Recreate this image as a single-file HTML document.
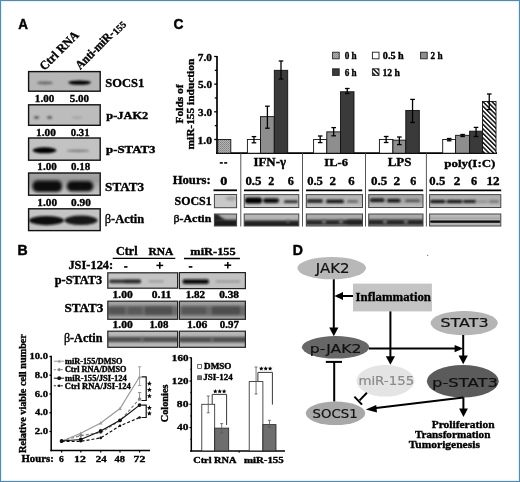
<!DOCTYPE html>
<html><head><meta charset="utf-8"><title>Figure</title>
<style>html,body{margin:0;padding:0;background:#fff;overflow:hidden;}svg{display:block;}</style></head>
<body><svg width="520" height="482" viewBox="0 0 520 482">
<defs>
<pattern id="dots" width="2" height="2" patternUnits="userSpaceOnUse"><rect width="2" height="2" fill="#b4b4b4"/><rect width="1" height="1" fill="#808080"/><rect x="1" y="1" width="1" height="1" fill="#909090"/></pattern>
<pattern id="hatch" width="3.2" height="3.2" patternUnits="userSpaceOnUse" patternTransform="rotate(-45)"><rect width="3.2" height="3.2" fill="#fff"/><rect width="1.5" height="3.2" fill="#111"/></pattern>
<filter id="b1" x="-50%" y="-100%" width="200%" height="300%"><feGaussianBlur stdDeviation="0.1"/></filter><filter id="b2" x="-50%" y="-100%" width="200%" height="300%"><feGaussianBlur stdDeviation="0.2"/></filter><filter id="b3" x="-50%" y="-100%" width="200%" height="300%"><feGaussianBlur stdDeviation="0.3"/></filter><filter id="b4" x="-50%" y="-100%" width="200%" height="300%"><feGaussianBlur stdDeviation="0.4"/></filter><filter id="b5" x="-50%" y="-100%" width="200%" height="300%"><feGaussianBlur stdDeviation="0.5"/></filter><filter id="b6" x="-50%" y="-100%" width="200%" height="300%"><feGaussianBlur stdDeviation="0.6"/></filter><filter id="b7" x="-50%" y="-100%" width="200%" height="300%"><feGaussianBlur stdDeviation="0.7"/></filter><filter id="b8" x="-50%" y="-100%" width="200%" height="300%"><feGaussianBlur stdDeviation="0.8"/></filter><filter id="b9" x="-50%" y="-100%" width="200%" height="300%"><feGaussianBlur stdDeviation="0.9"/></filter><filter id="b10" x="-50%" y="-100%" width="200%" height="300%"><feGaussianBlur stdDeviation="1.0"/></filter><filter id="b11" x="-50%" y="-100%" width="200%" height="300%"><feGaussianBlur stdDeviation="1.1"/></filter><filter id="b12" x="-50%" y="-100%" width="200%" height="300%"><feGaussianBlur stdDeviation="1.2"/></filter><filter id="b13" x="-50%" y="-100%" width="200%" height="300%"><feGaussianBlur stdDeviation="1.3"/></filter><filter id="b14" x="-50%" y="-100%" width="200%" height="300%"><feGaussianBlur stdDeviation="1.4"/></filter><filter id="b15" x="-50%" y="-100%" width="200%" height="300%"><feGaussianBlur stdDeviation="1.5"/></filter><filter id="b16" x="-50%" y="-100%" width="200%" height="300%"><feGaussianBlur stdDeviation="1.6"/></filter><filter id="b17" x="-50%" y="-100%" width="200%" height="300%"><feGaussianBlur stdDeviation="1.7"/></filter><filter id="b18" x="-50%" y="-100%" width="200%" height="300%"><feGaussianBlur stdDeviation="1.8"/></filter><filter id="b19" x="-50%" y="-100%" width="200%" height="300%"><feGaussianBlur stdDeviation="1.9"/></filter><filter id="b20" x="-50%" y="-100%" width="200%" height="300%"><feGaussianBlur stdDeviation="2.0"/></filter><filter id="b21" x="-50%" y="-100%" width="200%" height="300%"><feGaussianBlur stdDeviation="2.1"/></filter><filter id="b22" x="-50%" y="-100%" width="200%" height="300%"><feGaussianBlur stdDeviation="2.2"/></filter><filter id="b23" x="-50%" y="-100%" width="200%" height="300%"><feGaussianBlur stdDeviation="2.3"/></filter><filter id="b24" x="-50%" y="-100%" width="200%" height="300%"><feGaussianBlur stdDeviation="2.4"/></filter><filter id="b25" x="-50%" y="-100%" width="200%" height="300%"><feGaussianBlur stdDeviation="2.5"/></filter><filter id="b26" x="-50%" y="-100%" width="200%" height="300%"><feGaussianBlur stdDeviation="2.6"/></filter><filter id="b27" x="-50%" y="-100%" width="200%" height="300%"><feGaussianBlur stdDeviation="2.7"/></filter><filter id="b28" x="-50%" y="-100%" width="200%" height="300%"><feGaussianBlur stdDeviation="2.8"/></filter><filter id="b29" x="-50%" y="-100%" width="200%" height="300%"><feGaussianBlur stdDeviation="2.9"/></filter></defs>
<rect width="520" height="482" fill="#fff"/>
<text x="18.36" y="28.60" font-size="15.18" font-family="'Liberation Sans', sans-serif" font-weight="bold" fill="#000" stroke="#000" stroke-width="0.45" textLength="9.72" lengthAdjust="spacingAndGlyphs">A</text>
<text transform="translate(44.5,71.0) rotate(-45)" font-size="12.5" font-family="'Liberation Serif', serif" font-weight="bold" stroke="#000" stroke-width="0.35" textLength="49.5" lengthAdjust="spacingAndGlyphs">Ctrl RNA</text>
<g transform="translate(80.2,70.0) rotate(-45)" font-family="'Liberation Serif', serif" font-weight="bold" stroke="#000" stroke-width="0.35"><text x="0" y="0" font-size="12.3" textLength="49.6" lengthAdjust="spacingAndGlyphs">Anti-miR-</text><text x="50.3" y="1.2" font-size="9.8" textLength="14.4" lengthAdjust="spacingAndGlyphs">155</text></g>
<clipPath id="c1"><rect x="28.6" y="71.6" width="71.6" height="19.60000000000001"/></clipPath>
<g clip-path="url(#c1)">
<rect x="28.6" y="71.6" width="71.6" height="19.60000000000001" fill="#b6b6b6"/>
<ellipse cx="45" cy="82.9" rx="8" ry="1.5" fill="#555" opacity="0.8" filter="url(#b12)"/>
<ellipse cx="79.6" cy="82.6" rx="11.5" ry="2.2" fill="#000" opacity="1" filter="url(#b10)"/>
</g>
<rect x="28.6" y="71.6" width="71.6" height="19.60000000000001" fill="none" stroke="#111" stroke-width="1.4"/>
<clipPath id="c2"><rect x="28.6" y="104.8" width="71.6" height="20.5"/></clipPath>
<g clip-path="url(#c2)">
<rect x="28.6" y="104.8" width="71.6" height="20.5" fill="#bcbcbc"/>
<ellipse cx="36.5" cy="117.5" rx="2.6" ry="1.3" fill="#333" opacity="0.8" filter="url(#b8)"/>
<ellipse cx="49.6" cy="117.5" rx="2.6" ry="1.3" fill="#333" opacity="0.8" filter="url(#b8)"/>
<ellipse cx="77" cy="117.6" rx="5" ry="1" fill="#888" opacity="0.6" filter="url(#b10)"/>
</g>
<rect x="28.6" y="104.8" width="71.6" height="20.5" fill="none" stroke="#111" stroke-width="1.4"/>
<clipPath id="c3"><rect x="28.6" y="138" width="71.6" height="22.19999999999999"/></clipPath>
<g clip-path="url(#c3)">
<rect x="28.6" y="138" width="71.6" height="22.19999999999999" fill="#c2c2c2"/>
<ellipse cx="44.5" cy="150.3" rx="12" ry="3" fill="#000" opacity="1" filter="url(#b8)"/>
<ellipse cx="78" cy="150.8" rx="11.5" ry="1.4" fill="#777" opacity="0.8" filter="url(#b12)"/>
</g>
<rect x="28.6" y="138" width="71.6" height="22.19999999999999" fill="none" stroke="#111" stroke-width="1.4"/>
<clipPath id="c5"><rect x="28.6" y="173" width="71.6" height="22.19999999999999"/></clipPath>
<g clip-path="url(#c5)">
<rect x="28.6" y="173" width="71.6" height="22.19999999999999" fill="#bdbdbd"/>
<linearGradient id="g4" x1="0" y1="0" x2="0" y2="1"><stop offset="0" stop-color="#a4a4a4"/><stop offset="0.35" stop-color="#9a9a9a"/><stop offset="1" stop-color="#c8c8c8"/></linearGradient><rect x="28.6" y="173" width="71.6" height="22.19999999999999" fill="url(#g4)"/><rect x="32.5" y="180.5" width="29.5" height="11.5" rx="5" fill="#0a0a0a" filter="url(#b15)"/><rect x="66.8" y="181" width="26.5" height="10.5" rx="5" fill="#101010" filter="url(#b15)"/>
</g>
<rect x="28.6" y="173" width="71.6" height="22.19999999999999" fill="none" stroke="#111" stroke-width="1.4"/>
<clipPath id="c6"><rect x="28.6" y="208.8" width="71.6" height="21.799999999999983"/></clipPath>
<g clip-path="url(#c6)">
<rect x="28.6" y="208.8" width="71.6" height="21.799999999999983" fill="#c4c4c4"/>
<ellipse cx="46.5" cy="220.6" rx="17.5" ry="4.6" fill="#111" opacity="1" filter="url(#b12)"/>
<ellipse cx="81" cy="220.3" rx="16.5" ry="4.8" fill="#151515" opacity="1" filter="url(#b12)"/>
</g>
<rect x="28.6" y="208.8" width="71.6" height="21.799999999999983" fill="none" stroke="#111" stroke-width="1.4"/>
<text x="34.89" y="102.00" font-size="10.11" font-family="'Liberation Serif', serif" font-weight="bold" fill="#000" stroke="#000" stroke-width="0.35" textLength="19.43" lengthAdjust="spacingAndGlyphs">1.00</text>
<text x="69.74" y="102.00" font-size="10.11" font-family="'Liberation Serif', serif" font-weight="bold" fill="#000" stroke="#000" stroke-width="0.35" textLength="19.22" lengthAdjust="spacingAndGlyphs">5.00</text>
<text x="35.97" y="135.50" font-size="10.56" font-family="'Liberation Serif', serif" font-weight="bold" fill="#000" stroke="#000" stroke-width="0.35" textLength="19.85" lengthAdjust="spacingAndGlyphs">1.00</text>
<text x="70.80" y="135.50" font-size="10.56" font-family="'Liberation Serif', serif" font-weight="bold" fill="#000" stroke="#000" stroke-width="0.35" textLength="18.76" lengthAdjust="spacingAndGlyphs">0.31</text>
<text x="37.39" y="170.00" font-size="10.64" font-family="'Liberation Serif', serif" font-weight="bold" fill="#000" stroke="#000" stroke-width="0.35" textLength="19.32" lengthAdjust="spacingAndGlyphs">1.00</text>
<text x="71.04" y="170.00" font-size="10.64" font-family="'Liberation Serif', serif" font-weight="bold" fill="#000" stroke="#000" stroke-width="0.35" textLength="19.11" lengthAdjust="spacingAndGlyphs">0.18</text>
<text x="37.37" y="206.00" font-size="10.11" font-family="'Liberation Serif', serif" font-weight="bold" fill="#000" stroke="#000" stroke-width="0.35" textLength="19.75" lengthAdjust="spacingAndGlyphs">1.00</text>
<text x="71.03" y="206.00" font-size="10.11" font-family="'Liberation Serif', serif" font-weight="bold" fill="#000" stroke="#000" stroke-width="0.35" textLength="19.79" lengthAdjust="spacingAndGlyphs">0.90</text>
<text x="105.35" y="87.00" font-size="13.22" font-family="'Liberation Serif', serif" font-weight="bold" fill="#000" stroke="#000" stroke-width="0.35" textLength="38.90" lengthAdjust="spacingAndGlyphs">SOCS1</text>
<text x="106.35" y="119.40" font-size="10.19" font-family="'Liberation Serif', serif" font-weight="bold" fill="#000" stroke="#000" stroke-width="0.35" textLength="41.87" lengthAdjust="spacingAndGlyphs">p-JAK2</text>
<text x="106.05" y="152.70" font-size="10.19" font-family="'Liberation Serif', serif" font-weight="bold" fill="#000" stroke="#000" stroke-width="0.35" textLength="49.36" lengthAdjust="spacingAndGlyphs">p-STAT3</text>
<text x="105.12" y="190.60" font-size="11.70" font-family="'Liberation Serif', serif" font-weight="bold" fill="#000" stroke="#000" stroke-width="0.35" textLength="38.90" lengthAdjust="spacingAndGlyphs">STAT3</text>
<text x="104.70" y="222.90" font-size="13.04" font-family="'Liberation Serif', serif" font-weight="bold" fill="#000" stroke="#000" stroke-width="0.35" textLength="39.47" lengthAdjust="spacingAndGlyphs"><tspan font-weight="normal">β</tspan>-Actin</text>
<text x="173.47" y="28.60" font-size="15.11" font-family="'Liberation Sans', sans-serif" font-weight="bold" fill="#000" stroke="#000" stroke-width="0.45" textLength="9.98" lengthAdjust="spacingAndGlyphs">C</text>
<line x1="217.0" y1="55.89000000000001" x2="217.0" y2="153.9" stroke="#000" stroke-width="1.7" />
<line x1="214.2" y1="139.47" x2="217.0" y2="139.47" stroke="#000" stroke-width="1.3" />
<line x1="214.8" y1="125.64000000000001" x2="217.0" y2="125.64000000000001" stroke="#000" stroke-width="1.3" />
<line x1="214.2" y1="111.81" x2="217.0" y2="111.81" stroke="#000" stroke-width="1.3" />
<line x1="214.8" y1="97.98000000000002" x2="217.0" y2="97.98000000000002" stroke="#000" stroke-width="1.3" />
<line x1="214.2" y1="84.15" x2="217.0" y2="84.15" stroke="#000" stroke-width="1.3" />
<line x1="214.8" y1="70.32000000000001" x2="217.0" y2="70.32000000000001" stroke="#000" stroke-width="1.3" />
<line x1="214.2" y1="56.49000000000001" x2="217.0" y2="56.49000000000001" stroke="#000" stroke-width="1.3" />
<text x="197.55" y="143.57" font-size="10.56" font-family="'Liberation Serif', serif" font-weight="bold" fill="#000" stroke="#000" stroke-width="0.35" textLength="14.48" lengthAdjust="spacingAndGlyphs">1.0</text>
<text x="198.08" y="115.91" font-size="10.56" font-family="'Liberation Serif', serif" font-weight="bold" fill="#000" stroke="#000" stroke-width="0.35" textLength="13.93" lengthAdjust="spacingAndGlyphs">3.0</text>
<text x="198.03" y="88.25" font-size="10.56" font-family="'Liberation Serif', serif" font-weight="bold" fill="#000" stroke="#000" stroke-width="0.35" textLength="13.99" lengthAdjust="spacingAndGlyphs">5.0</text>
<text x="197.85" y="60.59" font-size="10.56" font-family="'Liberation Serif', serif" font-weight="bold" fill="#000" stroke="#000" stroke-width="0.35" textLength="14.17" lengthAdjust="spacingAndGlyphs">7.0</text>
<text transform="translate(183.2,123.4) rotate(-90)" font-size="10.8" font-family="'Liberation Serif', serif" font-weight="bold" stroke="#000" stroke-width="0.35" textLength="39" lengthAdjust="spacingAndGlyphs">Folds of</text>
<text transform="translate(193.8,149.5) rotate(-90)" font-size="10.8" font-family="'Liberation Serif', serif" font-weight="bold" stroke="#000" stroke-width="0.35" textLength="90.8" lengthAdjust="spacingAndGlyphs">miR-155 induction</text>
<line x1="216.2" y1="153.2" x2="497" y2="153.2" stroke="#000" stroke-width="1.7" />
<rect x="217.7" y="139.47" width="13.10" height="13.73" fill="url(#dots)" stroke="#111" stroke-width="0.9"/>
<rect x="247.4" y="139.47" width="13.10" height="13.73" fill="#fff" stroke="#111" stroke-width="0.9"/>
<line x1="253.95" y1="136.6" x2="253.95" y2="142.8" stroke="#000" stroke-width="1.3" />
<line x1="251.64999999999998" y1="136.6" x2="256.25" y2="136.6" stroke="#000" stroke-width="1.3" />
<line x1="251.64999999999998" y1="142.8" x2="256.25" y2="142.8" stroke="#000" stroke-width="1.3" />
<rect x="260.5" y="116.65" width="13.80" height="36.55" fill="#8e8e8e" stroke="#111" stroke-width="0.9"/>
<line x1="267.4" y1="106.2" x2="267.4" y2="128.2" stroke="#000" stroke-width="1.3" />
<line x1="265.09999999999997" y1="106.2" x2="269.7" y2="106.2" stroke="#000" stroke-width="1.3" />
<line x1="265.09999999999997" y1="128.2" x2="269.7" y2="128.2" stroke="#000" stroke-width="1.3" />
<rect x="274.3" y="70.32" width="13.40" height="82.88" fill="#3a3a3a" stroke="#111" stroke-width="0.9"/>
<line x1="281.0" y1="61" x2="281.0" y2="79" stroke="#000" stroke-width="1.3" />
<line x1="278.7" y1="61" x2="283.3" y2="61" stroke="#000" stroke-width="1.3" />
<line x1="278.7" y1="79" x2="283.3" y2="79" stroke="#000" stroke-width="1.3" />
<rect x="313.6" y="139.47" width="13.20" height="13.73" fill="#fff" stroke="#111" stroke-width="0.9"/>
<line x1="320.20000000000005" y1="136" x2="320.20000000000005" y2="142.6" stroke="#000" stroke-width="1.3" />
<line x1="317.90000000000003" y1="136" x2="322.50000000000006" y2="136" stroke="#000" stroke-width="1.3" />
<line x1="317.90000000000003" y1="142.6" x2="322.50000000000006" y2="142.6" stroke="#000" stroke-width="1.3" />
<rect x="326.8" y="131.86" width="13.70" height="21.34" fill="#8e8e8e" stroke="#111" stroke-width="0.9"/>
<line x1="333.65" y1="127.6" x2="333.65" y2="135.8" stroke="#000" stroke-width="1.3" />
<line x1="331.34999999999997" y1="127.6" x2="335.95" y2="127.6" stroke="#000" stroke-width="1.3" />
<line x1="331.34999999999997" y1="135.8" x2="335.95" y2="135.8" stroke="#000" stroke-width="1.3" />
<rect x="340.5" y="91.76" width="13.50" height="61.44" fill="#3a3a3a" stroke="#111" stroke-width="0.9"/>
<line x1="347.25" y1="88.5" x2="347.25" y2="93.5" stroke="#000" stroke-width="1.3" />
<line x1="344.95" y1="88.5" x2="349.55" y2="88.5" stroke="#000" stroke-width="1.3" />
<line x1="344.95" y1="93.5" x2="349.55" y2="93.5" stroke="#000" stroke-width="1.3" />
<rect x="379.4" y="139.47" width="13.50" height="13.73" fill="#fff" stroke="#111" stroke-width="0.9"/>
<line x1="386.15" y1="136.5" x2="386.15" y2="142.5" stroke="#000" stroke-width="1.3" />
<line x1="383.84999999999997" y1="136.5" x2="388.45" y2="136.5" stroke="#000" stroke-width="1.3" />
<line x1="383.84999999999997" y1="142.5" x2="388.45" y2="142.5" stroke="#000" stroke-width="1.3" />
<rect x="392.9" y="140.16" width="12.90" height="13.04" fill="#8e8e8e" stroke="#111" stroke-width="0.9"/>
<line x1="399.35" y1="137" x2="399.35" y2="144.6" stroke="#000" stroke-width="1.3" />
<line x1="397.05" y1="137" x2="401.65000000000003" y2="137" stroke="#000" stroke-width="1.3" />
<line x1="397.05" y1="144.6" x2="401.65000000000003" y2="144.6" stroke="#000" stroke-width="1.3" />
<rect x="405.8" y="110.43" width="13.50" height="42.77" fill="#3a3a3a" stroke="#111" stroke-width="0.9"/>
<line x1="412.55" y1="99.4" x2="412.55" y2="122.5" stroke="#000" stroke-width="1.3" />
<line x1="410.25" y1="99.4" x2="414.85" y2="99.4" stroke="#000" stroke-width="1.3" />
<line x1="410.25" y1="122.5" x2="414.85" y2="122.5" stroke="#000" stroke-width="1.3" />
<rect x="442.7" y="139.47" width="12.90" height="13.73" fill="#fff" stroke="#111" stroke-width="0.9"/>
<line x1="449.15" y1="138.5" x2="449.15" y2="140.8" stroke="#000" stroke-width="1.3" />
<line x1="446.84999999999997" y1="138.5" x2="451.45" y2="138.5" stroke="#000" stroke-width="1.3" />
<line x1="446.84999999999997" y1="140.8" x2="451.45" y2="140.8" stroke="#000" stroke-width="1.3" />
<rect x="455.6" y="135.32" width="14.00" height="17.88" fill="#8e8e8e" stroke="#111" stroke-width="0.9"/>
<line x1="462.6" y1="134.5" x2="462.6" y2="136.5" stroke="#000" stroke-width="1.3" />
<line x1="460.3" y1="134.5" x2="464.90000000000003" y2="134.5" stroke="#000" stroke-width="1.3" />
<line x1="460.3" y1="136.5" x2="464.90000000000003" y2="136.5" stroke="#000" stroke-width="1.3" />
<rect x="469.6" y="131.17" width="12.90" height="22.03" fill="#3a3a3a" stroke="#111" stroke-width="0.9"/>
<line x1="476.05" y1="127.4" x2="476.05" y2="136.5" stroke="#000" stroke-width="1.3" />
<line x1="473.75" y1="127.4" x2="478.35" y2="127.4" stroke="#000" stroke-width="1.3" />
<line x1="473.75" y1="136.5" x2="478.35" y2="136.5" stroke="#000" stroke-width="1.3" />
<rect x="482.5" y="101.44" width="13.50" height="51.76" fill="url(#hatch)" stroke="#111" stroke-width="0.9"/>
<line x1="489.25" y1="94" x2="489.25" y2="109.6" stroke="#000" stroke-width="1.3" />
<line x1="486.95" y1="94" x2="491.55" y2="94" stroke="#000" stroke-width="1.3" />
<line x1="486.95" y1="109.6" x2="491.55" y2="109.6" stroke="#000" stroke-width="1.3" />
<rect x="332.6" y="52.2" width="6.6" height="6.6" fill="url(#dots)" stroke="#222" stroke-width="0.9"/>
<text x="344.65" y="58.80" font-size="9.60" font-family="'Liberation Serif', serif" font-weight="bold" fill="#000" stroke="#000" stroke-width="0.35" textLength="11.97" lengthAdjust="spacingAndGlyphs">0 h</text>
<rect x="372.4" y="52.2" width="6.6" height="6.6" fill="#fff" stroke="#222" stroke-width="0.9"/>
<text x="382.82" y="58.80" font-size="9.60" font-family="'Liberation Serif', serif" font-weight="bold" fill="#000" stroke="#000" stroke-width="0.35" textLength="20.92" lengthAdjust="spacingAndGlyphs">0.5 h</text>
<rect x="420.6" y="52.2" width="6.6" height="6.6" fill="#8e8e8e" stroke="#222" stroke-width="0.9"/>
<text x="430.61" y="58.80" font-size="9.60" font-family="'Liberation Serif', serif" font-weight="bold" fill="#000" stroke="#000" stroke-width="0.35" textLength="12.02" lengthAdjust="spacingAndGlyphs">2 h</text>
<rect x="332.6" y="68.8" width="6.6" height="6.6" fill="#3a3a3a" stroke="#222" stroke-width="0.9"/>
<text x="344.70" y="75.60" font-size="10.04" font-family="'Liberation Serif', serif" font-weight="bold" fill="#000" stroke="#000" stroke-width="0.35" textLength="11.93" lengthAdjust="spacingAndGlyphs">6 h</text>
<rect x="372.4" y="68.8" width="6.6" height="6.6" fill="url(#hatch)" stroke="#222" stroke-width="0.9"/>
<text x="382.40" y="75.60" font-size="10.04" font-family="'Liberation Serif', serif" font-weight="bold" fill="#000" stroke="#000" stroke-width="0.35" textLength="17.53" lengthAdjust="spacingAndGlyphs">12 h</text>
<rect x="219.8" y="162.1" width="3" height="1.6" fill="#000"/><rect x="224.2" y="162.1" width="3" height="1.6" fill="#000"/>
<text x="253.49" y="165.70" font-size="11.49" font-family="'Liberation Serif', serif" font-weight="bold" fill="#000" stroke="#000" stroke-width="0.35" textLength="32.50" lengthAdjust="spacingAndGlyphs">IFN-γ</text>
<text x="324.30" y="165.70" font-size="11.40" font-family="'Liberation Serif', serif" font-weight="bold" fill="#000" stroke="#000" stroke-width="0.35" textLength="23.64" lengthAdjust="spacingAndGlyphs">IL-6</text>
<text x="387.78" y="165.90" font-size="11.70" font-family="'Liberation Serif', serif" font-weight="bold" fill="#000" stroke="#000" stroke-width="0.35" textLength="23.67" lengthAdjust="spacingAndGlyphs">LPS</text>
<text x="444.25" y="166.60" font-size="11.40" font-family="'Liberation Serif', serif" font-weight="bold" fill="#000" stroke="#000" stroke-width="0.35" textLength="51.14" lengthAdjust="spacingAndGlyphs">poly(I:C)</text>
<text x="172.69" y="184.30" font-size="12.71" font-family="'Liberation Serif', serif" font-weight="bold" fill="#000" stroke="#000" stroke-width="0.35" textLength="37.95" lengthAdjust="spacingAndGlyphs">Hours:</text>
<text x="220.17" y="184.70" font-size="12.52" font-family="'Liberation Serif', serif" font-weight="bold" fill="#000" stroke="#000" stroke-width="0.35" textLength="7.15" lengthAdjust="spacingAndGlyphs">0</text>
<text x="245.42" y="184.60" font-size="12.67" font-family="'Liberation Serif', serif" font-weight="bold" fill="#000" stroke="#000" stroke-width="0.35" textLength="16.15" lengthAdjust="spacingAndGlyphs">0.5</text>
<text x="268.19" y="184.60" font-size="12.77" font-family="'Liberation Serif', serif" font-weight="bold" fill="#000" stroke="#000" stroke-width="0.35" textLength="6.01" lengthAdjust="spacingAndGlyphs">2</text>
<text x="287.81" y="184.60" font-size="12.77" font-family="'Liberation Serif', serif" font-weight="bold" fill="#000" stroke="#000" stroke-width="0.35" textLength="6.12" lengthAdjust="spacingAndGlyphs">6</text>
<text x="307.13" y="184.60" font-size="12.67" font-family="'Liberation Serif', serif" font-weight="bold" fill="#000" stroke="#000" stroke-width="0.35" textLength="15.73" lengthAdjust="spacingAndGlyphs">0.5</text>
<text x="329.56" y="184.60" font-size="12.77" font-family="'Liberation Serif', serif" font-weight="bold" fill="#000" stroke="#000" stroke-width="0.35" textLength="6.49" lengthAdjust="spacingAndGlyphs">2</text>
<text x="348.29" y="184.60" font-size="12.77" font-family="'Liberation Serif', serif" font-weight="bold" fill="#000" stroke="#000" stroke-width="0.35" textLength="6.35" lengthAdjust="spacingAndGlyphs">6</text>
<text x="370.92" y="184.60" font-size="12.67" font-family="'Liberation Serif', serif" font-weight="bold" fill="#000" stroke="#000" stroke-width="0.35" textLength="16.26" lengthAdjust="spacingAndGlyphs">0.5</text>
<text x="393.64" y="184.60" font-size="12.77" font-family="'Liberation Serif', serif" font-weight="bold" fill="#000" stroke="#000" stroke-width="0.35" textLength="6.73" lengthAdjust="spacingAndGlyphs">2</text>
<text x="410.31" y="184.60" font-size="12.77" font-family="'Liberation Serif', serif" font-weight="bold" fill="#000" stroke="#000" stroke-width="0.35" textLength="6.01" lengthAdjust="spacingAndGlyphs">6</text>
<text x="429.33" y="184.60" font-size="12.22" font-family="'Liberation Serif', serif" font-weight="bold" fill="#000" stroke="#000" stroke-width="0.35" textLength="15.94" lengthAdjust="spacingAndGlyphs">0.5</text>
<text x="453.85" y="184.60" font-size="12.31" font-family="'Liberation Serif', serif" font-weight="bold" fill="#000" stroke="#000" stroke-width="0.35" textLength="6.61" lengthAdjust="spacingAndGlyphs">2</text>
<text x="471.01" y="184.60" font-size="12.31" font-family="'Liberation Serif', serif" font-weight="bold" fill="#000" stroke="#000" stroke-width="0.35" textLength="6.12" lengthAdjust="spacingAndGlyphs">6</text>
<text x="486.43" y="184.60" font-size="12.31" font-family="'Liberation Serif', serif" font-weight="bold" fill="#000" stroke="#000" stroke-width="0.35" textLength="13.12" lengthAdjust="spacingAndGlyphs">12</text>
<line x1="213.5" y1="190.3" x2="237" y2="190.3" stroke="#000" stroke-width="1.8" />
<line x1="244" y1="190.3" x2="299.2" y2="190.3" stroke="#000" stroke-width="1.8" />
<line x1="306" y1="190.3" x2="362.2" y2="190.3" stroke="#000" stroke-width="1.8" />
<line x1="368.5" y1="190.3" x2="423.2" y2="190.3" stroke="#000" stroke-width="1.8" />
<line x1="429.3" y1="190.3" x2="501.2" y2="190.3" stroke="#000" stroke-width="1.8" />
<line x1="240.8" y1="153" x2="240.8" y2="226.5" stroke="#444" stroke-width="0.9" />
<line x1="302.5" y1="153" x2="302.5" y2="226.5" stroke="#444" stroke-width="0.9" />
<line x1="365.5" y1="153" x2="365.5" y2="226.5" stroke="#444" stroke-width="0.9" />
<line x1="426.4" y1="153" x2="426.4" y2="226.5" stroke="#444" stroke-width="0.9" />
<text x="174.58" y="205.10" font-size="12.01" font-family="'Liberation Serif', serif" font-weight="bold" fill="#000" stroke="#000" stroke-width="0.35" textLength="37.14" lengthAdjust="spacingAndGlyphs">SOCS1</text>
<text x="173.53" y="222.00" font-size="10.89" font-family="'Liberation Serif', serif" font-weight="bold" fill="#000" stroke="#000" stroke-width="0.35" textLength="37.73" lengthAdjust="spacingAndGlyphs"><tspan font-weight="normal">β</tspan>-Actin</text>
<clipPath id="c7"><rect x="214.4" y="194.5" width="22.19999999999999" height="13.199999999999989"/></clipPath>
<g clip-path="url(#c7)">
<rect x="214.4" y="194.5" width="22.19999999999999" height="13.199999999999989" fill="#c9c9c9"/>
<ellipse cx="231" cy="198.5" rx="5.5" ry="2.2" fill="#999" opacity="0.8" filter="url(#b12)"/>
</g>
<rect x="214.4" y="194.5" width="22.19999999999999" height="13.199999999999989" fill="none" stroke="#444" stroke-width="1.0"/>
<clipPath id="c8"><rect x="214.4" y="214" width="22.19999999999999" height="12"/></clipPath>
<g clip-path="url(#c8)">
<rect x="214.4" y="214" width="22.19999999999999" height="12" fill="#acacac"/>
<rect x="212" y="219.8" width="28" height="7.199999999999989" rx="1.5" fill="#1c1c1c" opacity="1" filter="url(#b9)"/><path d="M212,214 L218,214 Q222,219 226,220 L212,222 Z" fill="#222" filter="url(#b10)"/>
</g>
<rect x="214.4" y="214" width="22.19999999999999" height="12" fill="none" stroke="#444" stroke-width="1.0"/>
<clipPath id="c10"><rect x="244.2" y="194.6" width="54.60000000000002" height="12.900000000000006"/></clipPath>
<g clip-path="url(#c10)">
<rect x="244.2" y="194.6" width="54.60000000000002" height="12.900000000000006" fill="#bcbcbc"/>
<linearGradient id="g9" x1="0" y1="0" x2="0" y2="1"><stop offset="0" stop-color="#bcbcbc"/><stop offset="1" stop-color="#d0d0d0"/></linearGradient><rect x="244.2" y="203" width="54.60000000000002" height="4.5" fill="url(#g9)"/><rect x="245" y="197.6" width="17" height="5.800000000000011" rx="2.5" fill="#050505" opacity="1" filter="url(#b8)"/><rect x="263" y="198.2" width="16" height="4.800000000000011" rx="2.5" fill="#0a0a0a" opacity="1" filter="url(#b8)"/><rect x="284" y="200.2" width="14" height="2.8000000000000114" rx="1.2" fill="#2e2e2e" opacity="1" filter="url(#b9)"/>
</g>
<rect x="244.2" y="194.6" width="54.60000000000002" height="12.900000000000006" fill="none" stroke="#444" stroke-width="1.0"/>
<clipPath id="c11"><rect x="244.2" y="214" width="54.60000000000002" height="12"/></clipPath>
<g clip-path="url(#c11)">
<rect x="244.2" y="214" width="54.60000000000002" height="12" fill="#b6b6b6"/>
<rect x="243" y="220.6" width="57" height="6.400000000000006" rx="1.5" fill="#202020" opacity="1" filter="url(#b9)"/><rect x="286" y="220" width="4" height="3" rx="1.5" fill="#666" opacity="0.8" filter="url(#b8)"/>
</g>
<rect x="244.2" y="214" width="54.60000000000002" height="12" fill="none" stroke="#444" stroke-width="1.0"/>
<clipPath id="c13"><rect x="306.3" y="194.6" width="56.19999999999999" height="12.900000000000006"/></clipPath>
<g clip-path="url(#c13)">
<rect x="306.3" y="194.6" width="56.19999999999999" height="12.900000000000006" fill="#b4b4b4"/>
<linearGradient id="g12" x1="0" y1="0" x2="0" y2="1"><stop offset="0" stop-color="#b4b4b4"/><stop offset="1" stop-color="#cacaca"/></linearGradient><rect x="306.3" y="203" width="56.19999999999999" height="4.5" fill="url(#g12)"/><rect x="306.5" y="199.5" width="16.5" height="3.0" rx="1.5" fill="#0d0d0d" opacity="1" filter="url(#b8)"/><rect x="326" y="199.7" width="18" height="3.3000000000000114" rx="1.5" fill="#0d0d0d" opacity="1" filter="url(#b8)"/><rect x="347" y="200.2" width="11" height="2.4000000000000057" rx="1.5" fill="#5a5a5a" opacity="1" filter="url(#b8)"/>
</g>
<rect x="306.3" y="194.6" width="56.19999999999999" height="12.900000000000006" fill="none" stroke="#444" stroke-width="1.0"/>
<clipPath id="c14"><rect x="306.3" y="214" width="56.19999999999999" height="12"/></clipPath>
<g clip-path="url(#c14)">
<rect x="306.3" y="214" width="56.19999999999999" height="12" fill="#acacac"/>
<rect x="305" y="219.8" width="59" height="5.199999999999989" rx="1.5" fill="#2a2a2a" opacity="1" filter="url(#b10)"/><rect x="322" y="219" width="4" height="5" rx="1.5" fill="#777" opacity="0.9" filter="url(#b9)"/><rect x="339" y="219" width="4" height="5" rx="1.5" fill="#777" opacity="0.9" filter="url(#b9)"/><rect x="347" y="219.5" width="15" height="5.0" rx="1.5" fill="#1a1a1a" opacity="0.6" filter="url(#b9)"/>
</g>
<rect x="306.3" y="214" width="56.19999999999999" height="12" fill="none" stroke="#444" stroke-width="1.0"/>
<clipPath id="c16"><rect x="368.7" y="194.6" width="54.30000000000001" height="12.900000000000006"/></clipPath>
<g clip-path="url(#c16)">
<rect x="368.7" y="194.6" width="54.30000000000001" height="12.900000000000006" fill="#a6a6a6"/>
<linearGradient id="g15" x1="0" y1="0" x2="0" y2="1"><stop offset="0" stop-color="#a6a6a6"/><stop offset="1" stop-color="#c2c2c2"/></linearGradient><rect x="368.7" y="202" width="54.30000000000001" height="5.5" fill="url(#g15)"/><rect x="370" y="198.6" width="14.5" height="3.200000000000017" rx="1.5" fill="#080808" opacity="1" filter="url(#b9)"/><rect x="387" y="199" width="13.5" height="3.1999999999999886" rx="1.5" fill="#0c0c0c" opacity="1" filter="url(#b9)"/><rect x="405" y="199.6" width="15" height="2.4000000000000057" rx="1.5" fill="#505050" opacity="1" filter="url(#b9)"/>
</g>
<rect x="368.7" y="194.6" width="54.30000000000001" height="12.900000000000006" fill="none" stroke="#444" stroke-width="1.0"/>
<clipPath id="c17"><rect x="368.7" y="214" width="54.30000000000001" height="12"/></clipPath>
<g clip-path="url(#c17)">
<rect x="368.7" y="214" width="54.30000000000001" height="12" fill="#aaaaaa"/>
<rect x="367" y="219.5" width="58" height="5.5" rx="1.5" fill="#262626" opacity="1" filter="url(#b10)"/><rect x="383" y="219" width="4" height="5" rx="1.5" fill="#777" opacity="0.9" filter="url(#b9)"/><rect x="404" y="219" width="4" height="5" rx="1.5" fill="#777" opacity="0.9" filter="url(#b9)"/>
</g>
<rect x="368.7" y="214" width="54.30000000000001" height="12" fill="none" stroke="#444" stroke-width="1.0"/>
<clipPath id="c19"><rect x="429.6" y="194.6" width="71.19999999999999" height="12.900000000000006"/></clipPath>
<g clip-path="url(#c19)">
<rect x="429.6" y="194.6" width="71.19999999999999" height="12.900000000000006" fill="#b0b0b0"/>
<linearGradient id="g18" x1="0" y1="0" x2="0" y2="1"><stop offset="0" stop-color="#b0b0b0"/><stop offset="1" stop-color="#c4c4c4"/></linearGradient><rect x="429.6" y="203" width="71.19999999999999" height="4.5" fill="url(#g18)"/><rect x="430" y="200" width="15.5" height="3" rx="1.5" fill="#0a0a0a" opacity="1" filter="url(#b9)"/><rect x="446.5" y="200" width="16.0" height="3" rx="1.5" fill="#0a0a0a" opacity="1" filter="url(#b9)"/><rect x="463" y="200.1" width="13" height="2.700000000000017" rx="1.5" fill="#151515" opacity="1" filter="url(#b9)"/><rect x="476" y="200.8" width="12" height="1.3999999999999773" rx="1.5" fill="#777" opacity="0.8" filter="url(#b8)"/><rect x="489" y="200.4" width="10" height="2.1999999999999886" rx="1.5" fill="#555" opacity="0.8" filter="url(#b9)"/>
</g>
<rect x="429.6" y="194.6" width="71.19999999999999" height="12.900000000000006" fill="none" stroke="#444" stroke-width="1.0"/>
<clipPath id="c21"><rect x="429.6" y="214" width="71.19999999999999" height="12"/></clipPath>
<g clip-path="url(#c21)">
<rect x="429.6" y="214" width="71.19999999999999" height="12" fill="#b4b4b4"/>
<linearGradient id="g20" x1="0" y1="0" x2="0" y2="1"><stop offset="0" stop-color="#c4c4c4"/><stop offset="1" stop-color="#a8a8a8"/></linearGradient><rect x="429.6" y="214" width="71.19999999999999" height="5" fill="url(#g20)"/><rect x="430" y="220.6" width="70.5" height="2.200000000000017" rx="1.5" fill="#080808" opacity="1" filter="url(#b6)"/>
</g>
<rect x="429.6" y="214" width="71.19999999999999" height="12" fill="none" stroke="#444" stroke-width="1.0"/>
<text x="17.41" y="255.20" font-size="14.60" font-family="'Liberation Sans', sans-serif" font-weight="bold" fill="#000" stroke="#000" stroke-width="0.45" textLength="10.16" lengthAdjust="spacingAndGlyphs">B</text>
<text x="116.13" y="254.80" font-size="11.49" font-family="'Liberation Serif', serif" font-weight="bold" fill="#000" stroke="#000" stroke-width="0.35" textLength="21.45" lengthAdjust="spacingAndGlyphs">Ctrl</text>
<text x="148.40" y="254.80" font-size="10.95" font-family="'Liberation Serif', serif" font-weight="bold" fill="#000" stroke="#000" stroke-width="0.35" textLength="24.80" lengthAdjust="spacingAndGlyphs">RNA</text>
<text x="190.37" y="254.80" font-size="10.91" font-family="'Liberation Serif', serif" font-weight="bold" fill="#000" stroke="#000" stroke-width="0.35" textLength="45.39" lengthAdjust="spacingAndGlyphs">miR-155</text>
<line x1="112.7" y1="258.4" x2="175.3" y2="258.4" stroke="#000" stroke-width="1.4" />
<line x1="184" y1="258.5" x2="239.9" y2="258.5" stroke="#000" stroke-width="1.4" />
<text x="68.43" y="269.25" font-size="11.48" font-family="'Liberation Serif', serif" font-weight="bold" fill="#000" stroke="#000" stroke-width="0.35" textLength="44.74" lengthAdjust="spacingAndGlyphs">JSI-124:</text>
<rect x="124.1" y="266.1" width="3.4" height="1.6" fill="#000"/><rect x="188.7" y="266.1" width="3.7" height="1.6" fill="#000"/>
<line x1="156.4" y1="265.4" x2="163.20000000000002" y2="265.4" stroke="#000" stroke-width="1.5" />
<line x1="159.8" y1="262.09999999999997" x2="159.8" y2="268.7" stroke="#000" stroke-width="1.5" />
<line x1="224.4" y1="265.2" x2="231.20000000000002" y2="265.2" stroke="#000" stroke-width="1.5" />
<line x1="227.8" y1="261.9" x2="227.8" y2="268.5" stroke="#000" stroke-width="1.5" />
<text x="54.80" y="284.25" font-size="11.48" font-family="'Liberation Serif', serif" font-weight="bold" fill="#000" stroke="#000" stroke-width="0.35" textLength="47.29" lengthAdjust="spacingAndGlyphs">p-STAT3</text>
<text x="64.52" y="311.90" font-size="12.08" font-family="'Liberation Serif', serif" font-weight="bold" fill="#000" stroke="#000" stroke-width="0.35" textLength="38.80" lengthAdjust="spacingAndGlyphs">STAT3</text>
<text x="63.91" y="341.50" font-size="12.61" font-family="'Liberation Serif', serif" font-weight="bold" fill="#000" stroke="#000" stroke-width="0.35" textLength="38.55" lengthAdjust="spacingAndGlyphs"><tspan font-weight="normal">β</tspan>-Actin</text>
<clipPath id="c22"><rect x="107.8" y="272.8" width="69.8" height="15.399999999999977"/></clipPath>
<g clip-path="url(#c22)">
<rect x="107.8" y="272.8" width="69.8" height="15.399999999999977" fill="#c4c4c4"/>
<rect x="109" y="279.6" width="32" height="3.599999999999966" rx="1.8" fill="#333" opacity="1" filter="url(#b9)"/><rect x="124" y="279.6" width="17" height="3.7999999999999545" rx="1.8" fill="#111" opacity="0.25" filter="url(#b9)"/><rect x="148.5" y="280.3" width="15.5" height="2.3000000000000114" rx="1.5" fill="#999" opacity="0.9" filter="url(#b9)"/>
</g>
<rect x="107.8" y="272.8" width="69.8" height="15.399999999999977" fill="none" stroke="#222" stroke-width="1.2"/>
<clipPath id="c23"><rect x="179.4" y="272.6" width="66.0" height="16.0"/></clipPath>
<g clip-path="url(#c23)">
<rect x="179.4" y="272.6" width="66.0" height="16.0" fill="#c2c2c2"/>
<rect x="182.5" y="279.2" width="26.5" height="4.800000000000011" rx="2.2" fill="#0a0a0a" opacity="1" filter="url(#b9)"/><rect x="215.5" y="280.4" width="25.0" height="2.2000000000000455" rx="1.5" fill="#909090" opacity="0.9" filter="url(#b9)"/>
</g>
<rect x="179.4" y="272.6" width="66.0" height="16.0" fill="none" stroke="#222" stroke-width="1.2"/>
<clipPath id="c24"><rect x="107.8" y="301.2" width="69.8" height="18.100000000000023"/></clipPath>
<g clip-path="url(#c24)">
<rect x="107.8" y="301.2" width="69.8" height="18.100000000000023" fill="#a6a6a6"/>
<rect x="107" y="305.5" width="72" height="10.5" rx="3" fill="#6a6a6a" opacity="1" filter="url(#b15)"/><rect x="109" y="307" width="16" height="7" rx="1.5" fill="#3a3a3a" opacity="0.45" filter="url(#b13)"/><rect x="128" y="307" width="14" height="7" rx="1.5" fill="#3a3a3a" opacity="0.35" filter="url(#b13)"/><rect x="145" y="306.5" width="27" height="8.0" rx="1.5" fill="#333" opacity="0.45" filter="url(#b13)"/>
</g>
<rect x="107.8" y="301.2" width="69.8" height="18.100000000000023" fill="none" stroke="#222" stroke-width="1.2"/>
<clipPath id="c25"><rect x="179.4" y="301.2" width="66.0" height="18.100000000000023"/></clipPath>
<g clip-path="url(#c25)">
<rect x="179.4" y="301.2" width="66.0" height="18.100000000000023" fill="#a2a2a2"/>
<rect x="179" y="305.5" width="68" height="10.5" rx="3" fill="#6a6a6a" opacity="1" filter="url(#b15)"/><rect x="182" y="307" width="24" height="7" rx="1.5" fill="#3a3a3a" opacity="0.4" filter="url(#b13)"/><rect x="212" y="306.5" width="28" height="8.0" rx="1.5" fill="#333" opacity="0.5" filter="url(#b13)"/>
</g>
<rect x="179.4" y="301.2" width="66.0" height="18.100000000000023" fill="none" stroke="#222" stroke-width="1.2"/>
<clipPath id="c26"><rect x="107.8" y="331.2" width="69.8" height="16.100000000000023"/></clipPath>
<g clip-path="url(#c26)">
<rect x="107.8" y="331.2" width="69.8" height="16.100000000000023" fill="#bababa"/>
<rect x="107" y="336.8" width="72" height="5.399999999999977" rx="2" fill="#505050" opacity="1" filter="url(#b10)"/><rect x="140.5" y="336" width="3.0" height="7" rx="1.5" fill="#888" opacity="0.5" filter="url(#b9)"/>
</g>
<rect x="107.8" y="331.2" width="69.8" height="16.100000000000023" fill="none" stroke="#222" stroke-width="1.2"/>
<clipPath id="c27"><rect x="179.4" y="331.2" width="66.0" height="16.100000000000023"/></clipPath>
<g clip-path="url(#c27)">
<rect x="179.4" y="331.2" width="66.0" height="16.100000000000023" fill="#b8b8b8"/>
<rect x="179" y="336.8" width="68" height="5.599999999999966" rx="2" fill="#505050" opacity="1" filter="url(#b10)"/><rect x="210.5" y="336" width="3.0" height="7" rx="1.5" fill="#888" opacity="0.5" filter="url(#b9)"/>
</g>
<rect x="179.4" y="331.2" width="66.0" height="16.100000000000023" fill="none" stroke="#222" stroke-width="1.2"/>
<text x="112.55" y="298.30" font-size="9.66" font-family="'Liberation Serif', serif" font-weight="bold" fill="#000" stroke="#000" stroke-width="0.35" textLength="20.28" lengthAdjust="spacingAndGlyphs">1.00</text>
<text x="151.87" y="298.30" font-size="9.66" font-family="'Liberation Serif', serif" font-weight="bold" fill="#000" stroke="#000" stroke-width="0.35" textLength="19.53" lengthAdjust="spacingAndGlyphs">0.11</text>
<text x="185.68" y="298.30" font-size="9.66" font-family="'Liberation Serif', serif" font-weight="bold" fill="#000" stroke="#000" stroke-width="0.35" textLength="19.49" lengthAdjust="spacingAndGlyphs">1.82</text>
<text x="219.18" y="298.30" font-size="9.66" font-family="'Liberation Serif', serif" font-weight="bold" fill="#000" stroke="#000" stroke-width="0.35" textLength="19.89" lengthAdjust="spacingAndGlyphs">0.38</text>
<text x="112.55" y="328.40" font-size="9.81" font-family="'Liberation Serif', serif" font-weight="bold" fill="#000" stroke="#000" stroke-width="0.35" textLength="20.28" lengthAdjust="spacingAndGlyphs">1.00</text>
<text x="149.40" y="328.40" font-size="9.81" font-family="'Liberation Serif', serif" font-weight="bold" fill="#000" stroke="#000" stroke-width="0.35" textLength="19.05" lengthAdjust="spacingAndGlyphs">1.08</text>
<text x="187.04" y="328.40" font-size="9.81" font-family="'Liberation Serif', serif" font-weight="bold" fill="#000" stroke="#000" stroke-width="0.35" textLength="20.37" lengthAdjust="spacingAndGlyphs">1.06</text>
<text x="219.89" y="328.40" font-size="9.81" font-family="'Liberation Serif', serif" font-weight="bold" fill="#000" stroke="#000" stroke-width="0.35" textLength="19.05" lengthAdjust="spacingAndGlyphs">0.97</text>
<line x1="51.2" y1="355.8" x2="51.2" y2="451.2" stroke="#000" stroke-width="1.5" />
<line x1="50.4" y1="450.5" x2="150" y2="450.5" stroke="#000" stroke-width="1.5" />
<line x1="49.4" y1="431.5" x2="51.2" y2="431.5" stroke="#000" stroke-width="1.2" />
<text x="34.65" y="434.10" font-size="9.06" font-family="'Liberation Serif', serif" font-weight="bold" fill="#000" stroke="#000" stroke-width="0.35" textLength="13.35" lengthAdjust="spacingAndGlyphs">2.0</text>
<line x1="49.4" y1="412.75" x2="51.2" y2="412.75" stroke="#000" stroke-width="1.2" />
<text x="34.97" y="415.35" font-size="9.06" font-family="'Liberation Serif', serif" font-weight="bold" fill="#000" stroke="#000" stroke-width="0.35" textLength="13.02" lengthAdjust="spacingAndGlyphs">4.0</text>
<line x1="49.4" y1="394.0" x2="51.2" y2="394.0" stroke="#000" stroke-width="1.2" />
<text x="34.76" y="396.60" font-size="9.06" font-family="'Liberation Serif', serif" font-weight="bold" fill="#000" stroke="#000" stroke-width="0.35" textLength="13.24" lengthAdjust="spacingAndGlyphs">6.0</text>
<line x1="49.4" y1="375.25" x2="51.2" y2="375.25" stroke="#000" stroke-width="1.2" />
<text x="34.76" y="377.85" font-size="9.06" font-family="'Liberation Serif', serif" font-weight="bold" fill="#000" stroke="#000" stroke-width="0.35" textLength="13.24" lengthAdjust="spacingAndGlyphs">8.0</text>
<line x1="49.4" y1="356.5" x2="51.2" y2="356.5" stroke="#000" stroke-width="1.2" />
<text x="29.53" y="359.10" font-size="9.06" font-family="'Liberation Serif', serif" font-weight="bold" fill="#000" stroke="#000" stroke-width="0.35" textLength="18.46" lengthAdjust="spacingAndGlyphs">10.0</text>
<line x1="61.6" y1="450.5" x2="61.6" y2="452.5" stroke="#000" stroke-width="1.2" />
<line x1="80.8" y1="450.5" x2="80.8" y2="452.5" stroke="#000" stroke-width="1.2" />
<line x1="100.7" y1="450.5" x2="100.7" y2="452.5" stroke="#000" stroke-width="1.2" />
<line x1="120" y1="450.5" x2="120" y2="452.5" stroke="#000" stroke-width="1.2" />
<line x1="139.6" y1="450.5" x2="139.6" y2="452.5" stroke="#000" stroke-width="1.2" />
<text x="21.51" y="462.30" font-size="9.35" font-family="'Liberation Serif', serif" font-weight="bold" fill="#000" stroke="#000" stroke-width="0.35" textLength="32.26" lengthAdjust="spacingAndGlyphs">Hours:</text>
<text x="59.09" y="462.30" font-size="9.28" font-family="'Liberation Serif', serif" font-weight="bold" fill="#000" stroke="#000" stroke-width="0.35" textLength="4.78" lengthAdjust="spacingAndGlyphs">6</text>
<text x="74.13" y="462.30" font-size="9.28" font-family="'Liberation Serif', serif" font-weight="bold" fill="#000" stroke="#000" stroke-width="0.35" textLength="11.76" lengthAdjust="spacingAndGlyphs">12</text>
<text x="95.74" y="462.30" font-size="9.28" font-family="'Liberation Serif', serif" font-weight="bold" fill="#000" stroke="#000" stroke-width="0.35" textLength="10.85" lengthAdjust="spacingAndGlyphs">24</text>
<text x="114.47" y="462.30" font-size="9.21" font-family="'Liberation Serif', serif" font-weight="bold" fill="#000" stroke="#000" stroke-width="0.35" textLength="10.47" lengthAdjust="spacingAndGlyphs">48</text>
<text x="133.53" y="462.30" font-size="9.28" font-family="'Liberation Serif', serif" font-weight="bold" fill="#000" stroke="#000" stroke-width="0.35" textLength="11.77" lengthAdjust="spacingAndGlyphs">72</text>
<text transform="translate(26.0,453) rotate(-90)" font-size="10.2" font-family="'Liberation Serif', serif" font-weight="bold" stroke="#000" stroke-width="0.35" textLength="118.9" lengthAdjust="spacingAndGlyphs">Relative viable cell number</text>
<polyline points="61.6,441.3 80.8,433.3 100.7,423 120,408.5 139.6,376.8" fill="none" stroke="#9a9a9a" stroke-width="1.2" stroke-dasharray="none"/>
<path d="M59.800000000000004,442.7 L63.4,442.7 L61.6,439.5 Z" fill="#9a9a9a"/>
<path d="M79.0,434.7 L82.6,434.7 L80.8,431.5 Z" fill="#9a9a9a"/>
<path d="M98.9,424.4 L102.5,424.4 L100.7,421.2 Z" fill="#9a9a9a"/>
<path d="M118.2,409.9 L121.8,409.9 L120,406.7 Z" fill="#9a9a9a"/>
<path d="M137.79999999999998,378.2 L141.4,378.2 L139.6,375.0 Z" fill="#9a9a9a"/>
<polyline points="61.6,441 80.8,435.6 100.7,432.6 120,420.7 139.6,398.8" fill="none" stroke="#808080" stroke-width="1.2" stroke-dasharray="3,2"/>
<path d="M59.7,441 L61.6,439.1 L63.5,441 L61.6,442.9 Z" fill="#808080"/>
<path d="M78.89999999999999,435.6 L80.8,433.70000000000005 L82.7,435.6 L80.8,437.5 Z" fill="#808080"/>
<path d="M98.8,432.6 L100.7,430.70000000000005 L102.60000000000001,432.6 L100.7,434.5 Z" fill="#808080"/>
<path d="M118.1,420.7 L120,418.8 L121.9,420.7 L120,422.59999999999997 Z" fill="#808080"/>
<path d="M137.7,398.8 L139.6,396.90000000000003 L141.5,398.8 L139.6,400.7 Z" fill="#808080"/>
<polyline points="61.6,441 80.8,439.5 100.7,431 120,420.3 139.6,405.1" fill="none" stroke="#111" stroke-width="1.2" stroke-dasharray="none"/>
<circle cx="61.6" cy="441" r="1.9" fill="#111"/>
<circle cx="80.8" cy="439.5" r="1.9" fill="#111"/>
<circle cx="100.7" cy="431" r="1.9" fill="#111"/>
<circle cx="120" cy="420.3" r="1.9" fill="#111"/>
<circle cx="139.6" cy="405.1" r="1.9" fill="#111"/>
<polyline points="61.6,441.3 80.8,441.3 100.7,437.9 120,425.8 139.6,417.5" fill="none" stroke="#111" stroke-width="1.2" stroke-dasharray="3,2"/>
<circle cx="61.6" cy="441.3" r="1.3" fill="#111"/>
<circle cx="80.8" cy="441.3" r="1.3" fill="#111"/>
<circle cx="100.7" cy="437.9" r="1.3" fill="#111"/>
<circle cx="120" cy="425.8" r="1.3" fill="#111"/>
<circle cx="139.6" cy="417.5" r="1.3" fill="#111"/>
<line x1="139.6" y1="366.8" x2="139.6" y2="385.5" stroke="#9a9a9a" stroke-width="0.9" />
<line x1="137.9" y1="366.8" x2="141.3" y2="366.8" stroke="#9a9a9a" stroke-width="0.9" />
<line x1="137.9" y1="385.5" x2="141.3" y2="385.5" stroke="#9a9a9a" stroke-width="0.9" />
<line x1="139.6" y1="392.6" x2="139.6" y2="400" stroke="#808080" stroke-width="0.9" />
<line x1="137.9" y1="392.6" x2="141.3" y2="392.6" stroke="#808080" stroke-width="0.9" />
<line x1="137.9" y1="400" x2="141.3" y2="400" stroke="#808080" stroke-width="0.9" />
<path d="M141.5,376.8 H146.2 V400.5 H141.5" fill="none" stroke="#111" stroke-width="1.2"/>
<path d="M141.5,405.1 H146.2 V417.5 H141.5" fill="none" stroke="#111" stroke-width="1.2"/>
<polygon points="149.40,381.10 150.09,382.75 151.87,382.90 150.51,384.06 150.93,385.80 149.40,384.87 147.87,385.80 148.29,384.06 146.93,382.90 148.71,382.75" fill="#000"/>
<polygon points="149.40,387.30 150.09,388.95 151.87,389.10 150.51,390.26 150.93,392.00 149.40,391.07 147.87,392.00 148.29,390.26 146.93,389.10 148.71,388.95" fill="#000"/>
<polygon points="149.40,393.50 150.09,395.15 151.87,395.30 150.51,396.46 150.93,398.20 149.40,397.27 147.87,398.20 148.29,396.46 146.93,395.30 148.71,395.15" fill="#000"/>
<polygon points="149.40,405.30 150.09,406.95 151.87,407.10 150.51,408.26 150.93,410.00 149.40,409.07 147.87,410.00 148.29,408.26 146.93,407.10 148.71,406.95" fill="#000"/>
<polygon points="149.40,410.90 150.09,412.55 151.87,412.70 150.51,413.86 150.93,415.60 149.40,414.67 147.87,415.60 148.29,413.86 146.93,412.70 148.71,412.55" fill="#000"/>
<line x1="53.8" y1="361.2" x2="64.2" y2="361.2" stroke="#9a9a9a" stroke-width="1" stroke-dasharray="none"/>
<path d="M57.400000000000006,362.59999999999997 L61.0,362.59999999999997 L59.2,359.4 Z" fill="#9a9a9a"/>
<text x="65.07" y="364.00" font-size="7.72" font-family="'Liberation Serif', serif" font-weight="bold" fill="#000" stroke="#000" stroke-width="0.35" textLength="57.45" lengthAdjust="spacingAndGlyphs">miR-155/DMSO</text>
<line x1="53.8" y1="369.7" x2="64.2" y2="369.7" stroke="#808080" stroke-width="1" stroke-dasharray="2,1.5"/>
<path d="M57.300000000000004,369.7 L59.2,367.8 L61.1,369.7 L59.2,371.59999999999997 Z" fill="#808080"/>
<text x="64.90" y="372.30" font-size="8.01" font-family="'Liberation Serif', serif" font-weight="bold" fill="#000" stroke="#000" stroke-width="0.35" textLength="61.51" lengthAdjust="spacingAndGlyphs">Ctrl RNA/DMSO</text>
<line x1="53.8" y1="378.2" x2="64.2" y2="378.2" stroke="#111" stroke-width="1" stroke-dasharray="none"/>
<circle cx="59.2" cy="378.2" r="1.9" fill="#111"/>
<text x="65.06" y="380.90" font-size="8.30" font-family="'Liberation Serif', serif" font-weight="bold" fill="#000" stroke="#000" stroke-width="0.35" textLength="61.79" lengthAdjust="spacingAndGlyphs">miR-155/JSI-124</text>
<line x1="53.8" y1="385.8" x2="64.2" y2="385.8" stroke="#111" stroke-width="1" stroke-dasharray="2,1.5"/>
<circle cx="59.2" cy="385.8" r="1.3" fill="#111"/>
<text x="64.89" y="388.60" font-size="8.15" font-family="'Liberation Serif', serif" font-weight="bold" fill="#000" stroke="#000" stroke-width="0.35" textLength="65.86" lengthAdjust="spacingAndGlyphs">Ctrl RNA/JSI-124</text>
<line x1="191.3" y1="357.4" x2="191.3" y2="451.5" stroke="#000" stroke-width="1.5" />
<line x1="190" y1="450.9" x2="285" y2="450.9" stroke="#000" stroke-width="1.5" />
<line x1="239.1" y1="450.9" x2="239.1" y2="452.8" stroke="#000" stroke-width="1.0" />
<line x1="189.5" y1="427.54" x2="191.3" y2="427.54" stroke="#000" stroke-width="1.2" />
<line x1="189.5" y1="404.28000000000003" x2="191.3" y2="404.28000000000003" stroke="#000" stroke-width="1.2" />
<line x1="189.5" y1="381.02" x2="191.3" y2="381.02" stroke="#000" stroke-width="1.2" />
<line x1="189.5" y1="357.76" x2="191.3" y2="357.76" stroke="#000" stroke-width="1.2" />
<text x="171.89" y="360.90" font-size="8.76" font-family="'Liberation Serif', serif" font-weight="bold" fill="#000" stroke="#000" stroke-width="0.35" textLength="16.52" lengthAdjust="spacingAndGlyphs">160</text>
<text x="171.89" y="384.40" font-size="9.06" font-family="'Liberation Serif', serif" font-weight="bold" fill="#000" stroke="#000" stroke-width="0.35" textLength="16.52" lengthAdjust="spacingAndGlyphs">120</text>
<text x="176.83" y="407.40" font-size="9.06" font-family="'Liberation Serif', serif" font-weight="bold" fill="#000" stroke="#000" stroke-width="0.35" textLength="11.60" lengthAdjust="spacingAndGlyphs">80</text>
<text x="177.06" y="430.30" font-size="9.06" font-family="'Liberation Serif', serif" font-weight="bold" fill="#000" stroke="#000" stroke-width="0.35" textLength="11.36" lengthAdjust="spacingAndGlyphs">40</text>
<line x1="190.3" y1="439.17" x2="191.3" y2="439.17" stroke="#000" stroke-width="1" />
<line x1="190.3" y1="415.91" x2="191.3" y2="415.91" stroke="#000" stroke-width="1" />
<line x1="190.3" y1="392.65000000000003" x2="191.3" y2="392.65000000000003" stroke="#000" stroke-width="1" />
<line x1="190.3" y1="369.39" x2="191.3" y2="369.39" stroke="#000" stroke-width="1" />
<text transform="translate(168.2,422.3) rotate(-90)" font-size="10.4" font-family="'Liberation Serif', serif" font-weight="bold" stroke="#000" stroke-width="0.35" textLength="37.9" lengthAdjust="spacingAndGlyphs">Colonies</text>
<rect x="201.8" y="404.28" width="12.90" height="46.62" fill="#fff" stroke="#222" stroke-width="0.8"/>
<line x1="208.25" y1="396" x2="208.25" y2="412.8" stroke="#555" stroke-width="0.8" />
<line x1="206.75" y1="396" x2="209.75" y2="396" stroke="#555" stroke-width="0.8" />
<line x1="206.75" y1="412.8" x2="209.75" y2="412.8" stroke="#555" stroke-width="0.8" />
<rect x="214.7" y="428.12" width="14.00" height="22.78" fill="#6e6e6e" stroke="#222" stroke-width="0.8"/>
<line x1="221.7" y1="423.6" x2="221.7" y2="433" stroke="#555" stroke-width="0.8" />
<line x1="220.2" y1="423.6" x2="223.2" y2="423.6" stroke="#555" stroke-width="0.8" />
<line x1="220.2" y1="433" x2="223.2" y2="433" stroke="#555" stroke-width="0.8" />
<rect x="249.2" y="381.60" width="13.70" height="69.30" fill="#fff" stroke="#222" stroke-width="0.8"/>
<line x1="256.04999999999995" y1="367" x2="256.04999999999995" y2="394" stroke="#555" stroke-width="0.8" />
<line x1="254.54999999999995" y1="367" x2="257.54999999999995" y2="367" stroke="#555" stroke-width="0.8" />
<line x1="254.54999999999995" y1="394" x2="257.54999999999995" y2="394" stroke="#555" stroke-width="0.8" />
<rect x="262.9" y="424.63" width="13.10" height="26.27" fill="#6e6e6e" stroke="#222" stroke-width="0.8"/>
<line x1="269.45" y1="420.3" x2="269.45" y2="427.5" stroke="#555" stroke-width="0.8" />
<line x1="267.95" y1="420.3" x2="270.95" y2="420.3" stroke="#555" stroke-width="0.8" />
<line x1="267.95" y1="427.5" x2="270.95" y2="427.5" stroke="#555" stroke-width="0.8" />
<path d="M212.2,404 V394.4 H226.6 V425" fill="none" stroke="#222" stroke-width="0.9"/>
<path d="M257.9,381 V372.4 H272.4 V404.6" fill="none" stroke="#222" stroke-width="0.9"/>
<polygon points="215.30,389.00 215.93,390.53 217.58,390.66 216.33,391.73 216.71,393.34 215.30,392.48 213.89,393.34 214.27,391.73 213.02,390.66 214.67,390.53" fill="#000"/>
<polygon points="219.70,389.00 220.33,390.53 221.98,390.66 220.73,391.73 221.11,393.34 219.70,392.48 218.29,393.34 218.67,391.73 217.42,390.66 219.07,390.53" fill="#000"/>
<polygon points="224.10,389.00 224.73,390.53 226.38,390.66 225.13,391.73 225.51,393.34 224.10,392.48 222.69,393.34 223.07,391.73 221.82,390.66 223.47,390.53" fill="#000"/>
<polygon points="261.30,366.20 261.93,367.73 263.58,367.86 262.33,368.93 262.71,370.54 261.30,369.68 259.89,370.54 260.27,368.93 259.02,367.86 260.67,367.73" fill="#000"/>
<polygon points="265.70,366.20 266.33,367.73 267.98,367.86 266.73,368.93 267.11,370.54 265.70,369.68 264.29,370.54 264.67,368.93 263.42,367.86 265.07,367.73" fill="#000"/>
<polygon points="270.10,366.20 270.73,367.73 272.38,367.86 271.13,368.93 271.51,370.54 270.10,369.68 268.69,370.54 269.07,368.93 267.82,367.86 269.47,367.73" fill="#000"/>
<rect x="197.7" y="364.5" width="3.9" height="3.9" fill="#fff" stroke="#333" stroke-width="0.7"/>
<rect x="197.7" y="375.8" width="3.9" height="3.9" fill="#777" stroke="#333" stroke-width="0.7"/>
<text x="204.04" y="368.80" font-size="7.61" font-family="'Liberation Serif', serif" font-weight="bold" fill="#000" stroke="#000" stroke-width="0.35" textLength="27.42" lengthAdjust="spacingAndGlyphs">DMSO</text>
<text x="203.31" y="380.30" font-size="8.67" font-family="'Liberation Serif', serif" font-weight="bold" fill="#000" stroke="#000" stroke-width="0.35" textLength="29.55" lengthAdjust="spacingAndGlyphs">JSI-124</text>
<text x="193.21" y="463.20" font-size="8.59" font-family="'Liberation Serif', serif" font-weight="bold" fill="#000" stroke="#000" stroke-width="0.35" textLength="43.19" lengthAdjust="spacingAndGlyphs">Ctrl RNA</text>
<text x="243.90" y="463.20" font-size="8.59" font-family="'Liberation Serif', serif" font-weight="bold" fill="#000" stroke="#000" stroke-width="0.35" textLength="39.80" lengthAdjust="spacingAndGlyphs">miR-155</text>
<text x="292.71" y="255.10" font-size="14.46" font-family="'Liberation Sans', sans-serif" font-weight="bold" fill="#000" stroke="#000" stroke-width="0.45" textLength="10.19" lengthAdjust="spacingAndGlyphs">D</text>
<ellipse cx="331.7" cy="268.1" rx="34.3" ry="11.2" fill="#b8b8b8"/>
<text x="315.73" y="273.20" font-size="14.36" font-family="'DejaVu Sans', sans-serif" font-weight="normal" fill="#111" stroke="#111" stroke-width="0.2" textLength="33.82" lengthAdjust="spacingAndGlyphs">JAK2</text>
<rect x="353" y="283.6" width="78.9" height="27.8" fill="#c4c4c4"/>
<text x="355.59" y="300.70" font-size="13.32" font-family="'Liberation Serif', serif" font-weight="bold" fill="#000" stroke="#000" stroke-width="0.35" textLength="75.38" lengthAdjust="spacingAndGlyphs">Inflammation</text>
<line x1="333.8" y1="279.3" x2="333.8" y2="329" stroke="#000" stroke-width="2.0" />
<path d="M333.8,336.2 L329.2,327.59999999999997 L338.40000000000003,327.59999999999997 Z" fill="#000"/>
<line x1="341" y1="296" x2="353" y2="296" stroke="#000" stroke-width="2.0" />
<path d="M334.4,296 L343.0,292.1 L343.0,299.9 Z" fill="#000"/>
<line x1="390.4" y1="311.4" x2="390.4" y2="357" stroke="#000" stroke-width="2.0" />
<path d="M390.4,364.8 L385.79999999999995,356.2 L395.0,356.2 Z" fill="#000"/>
<ellipse cx="464.2" cy="323.1" rx="33.6" ry="12.1" fill="#b5b5b5"/>
<text x="440.46" y="327.20" font-size="12.89" font-family="'DejaVu Sans', sans-serif" font-weight="normal" fill="#111" stroke="#111" stroke-width="0.2" textLength="48.15" lengthAdjust="spacingAndGlyphs">STAT3</text>
<line x1="463.2" y1="335" x2="463.2" y2="357" stroke="#000" stroke-width="2.0" />
<path d="M463.2,364.2 L458.59999999999997,355.59999999999997 L467.8,355.59999999999997 Z" fill="#000"/>
<ellipse cx="335.6" cy="347.3" rx="33.7" ry="11.2" fill="#676767"/>
<text x="309.79" y="353.00" font-size="12.48" font-family="'DejaVu Sans', sans-serif" font-weight="normal" fill="#111" stroke="#111" stroke-width="0.2" textLength="51.82" lengthAdjust="spacingAndGlyphs">p-JAK2</text>
<line x1="369" y1="348.6" x2="456" y2="348.6" stroke="#000" stroke-width="2.0" />
<path d="M463.2,348.6 L454.59999999999997,345.0 L454.59999999999997,352.20000000000005 Z" fill="#000"/>
<line x1="325.8" y1="361.9" x2="342" y2="361.9" stroke="#000" stroke-width="2.0" />
<line x1="334.2" y1="361.9" x2="334.2" y2="401.6" stroke="#000" stroke-width="2.0" />
<ellipse cx="385.4" cy="380.8" rx="28.9" ry="15.8" fill="#e4e4e4"/>
<text x="358.40" y="385.40" font-size="12.63" font-family="'DejaVu Sans', sans-serif" font-weight="normal" fill="#8a8a8a" stroke="#8a8a8a" stroke-width="0.2" textLength="55.75" lengthAdjust="spacingAndGlyphs">miR-155</text>
<ellipse cx="335.5" cy="413.3" rx="29.7" ry="11.8" fill="#a8a8a8"/>
<text x="312.64" y="418.40" font-size="13.15" font-family="'DejaVu Sans', sans-serif" font-weight="normal" fill="#111" stroke="#111" stroke-width="0.2" textLength="44.97" lengthAdjust="spacingAndGlyphs">SOCS1</text>
<ellipse cx="462.8" cy="381.3" rx="35.9" ry="16.3" fill="#5b5b5b"/>
<text x="432.02" y="386.90" font-size="12.89" font-family="'DejaVu Sans', sans-serif" font-weight="normal" fill="#111" stroke="#111" stroke-width="0.2" textLength="65.93" lengthAdjust="spacingAndGlyphs">p-STAT3</text>
<line x1="366.9" y1="392.8" x2="359.6" y2="400.4" stroke="#000" stroke-width="2.0" />
<line x1="354.4" y1="396.6" x2="362.0" y2="404.6" stroke="#000" stroke-width="2.0" />
<line x1="463.4" y1="397.5" x2="374" y2="408.3" stroke="#000" stroke-width="2.0" />
<path d="M365.8,409.6 L376.2,405.0 L377.0,412.6 Z" fill="#000"/>
<line x1="463.4" y1="397.3" x2="463.4" y2="410" stroke="#000" stroke-width="2.0" />
<path d="M463.5,417 L459.1,408.4 L467.9,408.4 Z" fill="#000"/>
<circle cx="427.7" cy="255.3" r="0.6" fill="#555"/>
<text x="431.70" y="427.70" font-size="10.75" font-family="'Liberation Serif', serif" font-weight="bold" fill="#000" stroke="#000" stroke-width="0.35" textLength="62.85" lengthAdjust="spacingAndGlyphs">Proliferation</text>
<text x="415.01" y="437.90" font-size="10.75" font-family="'Liberation Serif', serif" font-weight="bold" fill="#000" stroke="#000" stroke-width="0.35" textLength="75.34" lengthAdjust="spacingAndGlyphs">Transformation</text>
<text x="408.70" y="447.50" font-size="10.91" font-family="'Liberation Serif', serif" font-weight="bold" fill="#000" stroke="#000" stroke-width="0.35" textLength="71.20" lengthAdjust="spacingAndGlyphs">Tumorigenesis</text>
<rect x="0.5" y="0.5" width="519" height="481" fill="none" stroke="#5088c0" stroke-width="1"/>
<rect x="1.5" y="1.5" width="517" height="479" fill="none" stroke="#e2f5ff" stroke-width="1"/>
</svg></body></html>
